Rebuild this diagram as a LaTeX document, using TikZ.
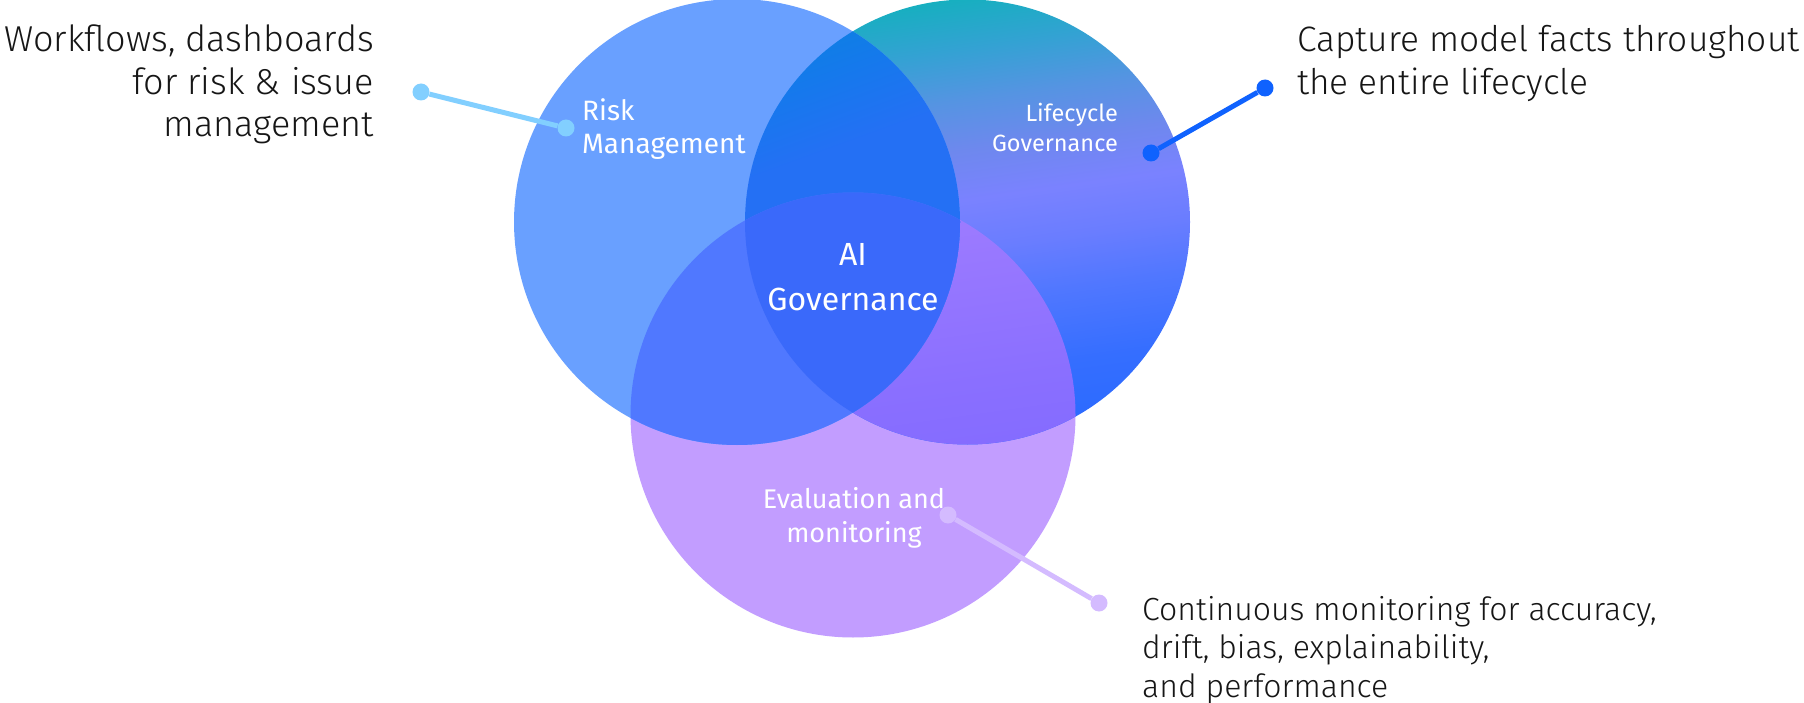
\documentclass[tikz,border=0pt]{standalone}
\usepackage{fontspec}
\setmainfont{Fira Sans Light}
\newfontfamily\labelfont{Fira Sans}

% palette
\definecolor{ink}{HTML}{161616}
\definecolor{riskfill}{HTML}{69A0FF}
\definecolor{evalfill}{HTML}{C29DFF}
\definecolor{riskeval}{HTML}{5078FF}
\definecolor{core}{HTML}{3A69FA}
\definecolor{riskdot}{HTML}{82CFFF}
\definecolor{lifedot}{HTML}{0F62FE}
\definecolor{evaldot}{HTML}{D4BBFF}
% gradient stops of the lifecycle circle
\definecolor{lcA}{HTML}{2A6AFF}
\definecolor{lcB}{HTML}{356EFF}
\definecolor{lcC}{HTML}{5077FF}
\definecolor{lcD}{HTML}{6A7DFF}
\definecolor{lcE}{HTML}{7A82FF}
\definecolor{lcF}{HTML}{6E88EE}
\definecolor{lcG}{HTML}{5594E2}
\definecolor{lcH}{HTML}{33A2D3}
\definecolor{lcI}{HTML}{17AFC0}
% lifecycle / evaluation lens
\definecolor{leA}{HTML}{856CFF}
\definecolor{leB}{HTML}{8A6FFF}
\definecolor{leC}{HTML}{A07DFF}
% risk / lifecycle lens
\definecolor{rlA}{HTML}{2470F4}
\definecolor{rlB}{HTML}{1579EC}
\definecolor{rlC}{HTML}{0884DC}

\pgfdeclareverticalshading{lifegrad}{100bp}{%
  color(0bp)=(lcA); color(25bp)=(lcA); color(33bp)=(lcB); color(41bp)=(lcC);
  color(47bp)=(lcD); color(52.5bp)=(lcE); color(58bp)=(lcF); color(63.7bp)=(lcG);
  color(69.4bp)=(lcH); color(75bp)=(lcI); color(100bp)=(lcI)}
\pgfdeclareverticalshading{lifeevalgrad}{100bp}{%
  color(0bp)=(leA); color(25bp)=(leA); color(32bp)=(leB); color(54bp)=(leC);
  color(100bp)=(leC)}
\pgfdeclareverticalshading{risklifegrad}{100bp}{%
  color(0bp)=(rlA); color(54bp)=(rlA); color(62bp)=(rlB); color(71bp)=(rlC);
  color(100bp)=(rlC)}

\tikzset{
  blurb/.style={inner sep=0pt, text=ink, font=\fontsize{36}{43}\selectfont},
  blurbright/.style={inner sep=0pt, text=ink, font=\fontsize{35.3}{43}\selectfont},
  blurbsmall/.style={inner sep=0pt, text=ink, font=\fontsize{32}{38}\selectfont},
  tag/.style={inner sep=0pt, text=white},
  pin/.style={circle, inner sep=0pt, minimum size=17pt},
  pinline/.style={line width=5pt},
}

\begin{document}
\begin{tikzpicture}[x=1pt, y=-1pt]
\useasboundingbox (0,0) rectangle (1804,703);
\fill[white] (0,0) rectangle (1804,703);

\coordinate (cRisk) at (737,222);
\coordinate (cLife) at (967.5,222);
\coordinate (cEval) at (853,415);

% three circles
\fill[evalfill] (cEval) circle[radius=222.5pt];
\shade[shading=lifegrad, shading angle=8] (cLife) circle[radius=222.5pt];
\begin{scope}
  \clip (cEval) circle[radius=222.5pt];
  \shade[shading=lifeevalgrad, shading angle=8] (cLife) circle[radius=222.5pt];
\end{scope}
\fill[riskfill] (cRisk) circle[radius=223pt];
\begin{scope}
  \clip (cLife) circle[radius=222.5pt];
  \shade[shading=risklifegrad, shading angle=20] (cRisk) circle[radius=223pt];
\end{scope}
\begin{scope}
  \clip (cEval) circle[radius=222.5pt];
  \fill[riskeval] (cRisk) circle[radius=223pt];
\end{scope}
\begin{scope}
  \clip (cEval) circle[radius=222.5pt];
  \clip (cLife) circle[radius=222.5pt];
  \fill[core] (cRisk) circle[radius=223pt];
\end{scope}

% labels inside the circles
\node[tag, anchor=base west, font=\labelfont\fontsize{28}{33}\selectfont] (risk1) at (582,121) {Risk};
\node[tag, anchor=base west, font=\labelfont\fontsize{28}{33}\selectfont] (risk2) at (582,154) {Management};
\node[tag, anchor=base east, font=\labelfont\fontsize{23.5}{30}\selectfont] (life1) at (1118,122) {Lifecycle};
\node[tag, anchor=base east, font=\labelfont\fontsize{23.5}{30}\selectfont] (life2) at (1118,152) {Governance};
\node[tag, anchor=base, font=\labelfont\fontsize{32}{45}\selectfont] (ai1) at (853,266) {AI};
\node[tag, anchor=base, font=\labelfont\fontsize{32}{45}\selectfont] (ai2) at (853,311) {Governance};
\node[tag, anchor=base, font=\labelfont\fontsize{27}{34}\selectfont] (eval1) at (854,508) {Evaluation and};
\node[tag, anchor=base, font=\labelfont\fontsize{27}{34}\selectfont] (eval2) at (854,542) {monitoring};

% descriptions
\node[blurb, anchor=base east] (wf1) at (374,52) {Workflows, dashboards};
\node[blurb, anchor=base east] (wf2) at (374,95) {for risk \& issue};
\node[blurb, anchor=base east] (wf3) at (374,137) {management};
\node[blurbright, anchor=base west] (cap1) at (1297,52) {Capture model facts throughout};
\node[blurbright, anchor=base west] (cap2) at (1297,95) {the entire lifecycle};
\node[blurbsmall, anchor=base west] (mon1) at (1142,620) {Continuous monitoring for accuracy,};
\node[blurbsmall, anchor=base west] (mon2) at (1142,658) {drift, bias, explainability,};
\node[blurbsmall, anchor=base west] (mon3) at (1142,697) {and performance};

% pointers
\node[pin, fill=riskdot] (pR1) at (421,92) {};
\node[pin, fill=riskdot] (pR2) at (566,128) {};
\draw[pinline, riskdot] (pR1) -- (pR2);
\node[pin, fill=lifedot] (pL1) at (1151,153) {};
\node[pin, fill=lifedot] (pL2) at (1265,88) {};
\draw[pinline, lifedot] (pL1) -- (pL2);
\node[pin, fill=evaldot] (pE1) at (948,515) {};
\node[pin, fill=evaldot] (pE2) at (1099,603) {};
\draw[pinline, evaldot] (pE1) -- (pE2);
\end{tikzpicture}
\end{document}
